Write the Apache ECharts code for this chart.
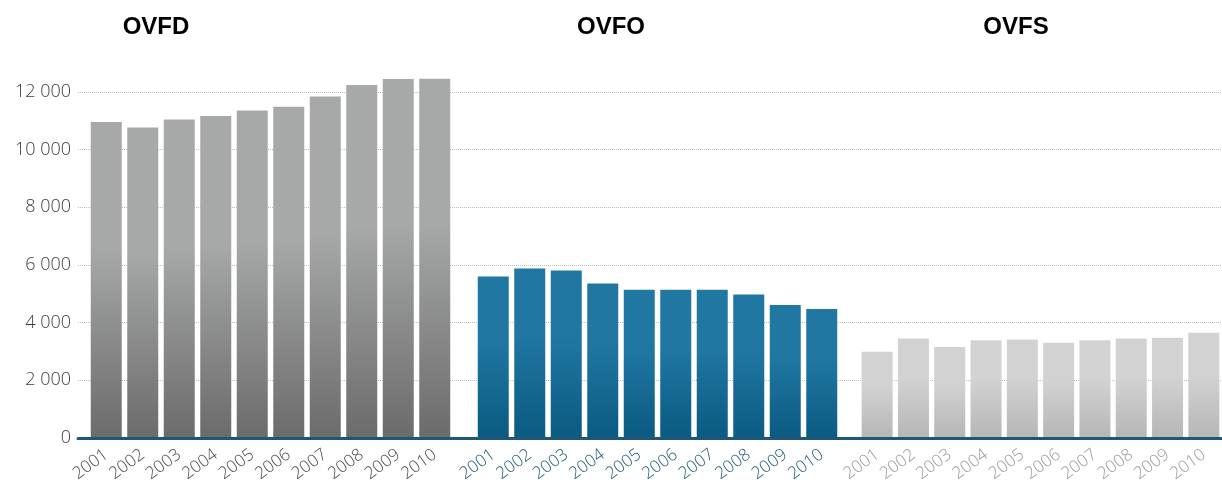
<!DOCTYPE html>
<html>
<head>
<meta charset="utf-8">
<script src="https://cdn.jsdelivr.net/npm/echarts@6/dist/echarts.min.js"></script>
<style>
  html, body { margin: 0; padding: 0; background: #fff; }
  #chart { width: 1222px; height: 485px; }
</style>
</head>
<body>
<div id="chart"></div>
<script>
// Years shown under each panel
const years = ['2001', '2002', '2003', '2004', '2005', '2006', '2007', '2008', '2009', '2010'];

// Yearly totals per panel
const ovfd = [10960, 10770, 11050, 11170, 11360, 11490, 11840, 12240, 12450, 12460];
const ovfo = [5600, 5880, 5810, 5360, 5140, 5140, 5140, 4980, 4610, 4470];
const ovfs = [2990, 3450, 3160, 3390, 3420, 3300, 3390, 3450, 3480, 3650];

// Panel titles
const panelTitles = ['OVFD', 'OVFO', 'OVFS'];

// Value axis range
const yMin = 0;
const yMax = 12000;
const yStep = 2000;

const chart = echarts.init(document.getElementById('chart'));

const panels = [
  { data: ovfd, left: 88, top: '#a6a9a7', bottom: '#6b6b6b', label: '#4a4a4a' },
  { data: ovfo, left: 475, top: '#1f77a2', bottom: '#0b5a82', label: '#1e5a74' },
  { data: ovfs, left: 859, top: '#d2d2d2', bottom: '#b6b6b6', label: '#9a9a9a' }
];

const grids = [];
const xAxes = [];
const yAxes = [];
const series = [];

panels.forEach(function (p, i) {
  grids.push({ left: p.left, width: 365, top: 92, height: 346 });
  xAxes.push({
    type: 'category',
    gridIndex: i,
    data: years,
    axisLine: { show: false },
    axisTick: { show: false },
    axisLabel: {
      rotate: 36,
      margin: 15,
      fontSize: 17,
      fontWeight: 300,
      fontFamily: 'Open Sans',
      color: p.label,
      interval: 0
    }
  });
  yAxes.push({
    type: 'value',
    gridIndex: i,
    min: yMin,
    max: yMax,
    interval: yStep,
    show: false,
    splitLine: { show: false }
  });
  series.push({
    type: 'bar',
    xAxisIndex: i,
    yAxisIndex: i,
    data: p.data,
    barWidth: 31,
    clip: false,
    itemStyle: {
      color: new echarts.graphic.LinearGradient(0, 0, 0, 1, [
        { offset: 0, color: p.top },
        { offset: 0.4, color: p.top },
        { offset: 1, color: p.bottom }
      ])
    }
  });
});

// Shared background grid: value labels, dotted guide lines and the baseline
grids.push({ left: 78, right: 0, top: 92, height: 346 });
xAxes.push({
  type: 'category',
  gridIndex: 3,
  data: [''],
  z: 10,
  axisLine: { show: true, lineStyle: { color: '#1d5877', width: 3 } },
  axisTick: { show: false },
  axisLabel: { show: false }
});
yAxes.push({
  type: 'value',
  gridIndex: 3,
  min: yMin,
  max: yMax,
  interval: yStep,
  axisLine: { show: false },
  axisTick: { show: false },
  axisLabel: {
    margin: 7,
    fontSize: 18,
    fontWeight: 300,
    fontFamily: 'Open Sans',
    color: '#3c3c3c',
    formatter: function (v) {
      return String(v).replace(/\B(?=(\d{3})+(?!\d))/g, ' ');
    }
  },
  splitLine: { show: true, lineStyle: { color: '#bdbdbd', type: 'dotted', width: 1 } }
});

const titleX = [156, 611, 1016];

chart.setOption({
  animation: false,
  grid: grids,
  xAxis: xAxes,
  yAxis: yAxes,
  series: series,
  graphic: panelTitles.map(function (t, i) {
    return {
      type: 'text',
      x: titleX[i],
      y: 15,
      style: {
        text: t,
        textAlign: 'center',
        fill: '#000',
        font: 'bold 24px "Liberation Sans", Arial, sans-serif'
      }
    };
  })
});
</script>
</body>
</html>
